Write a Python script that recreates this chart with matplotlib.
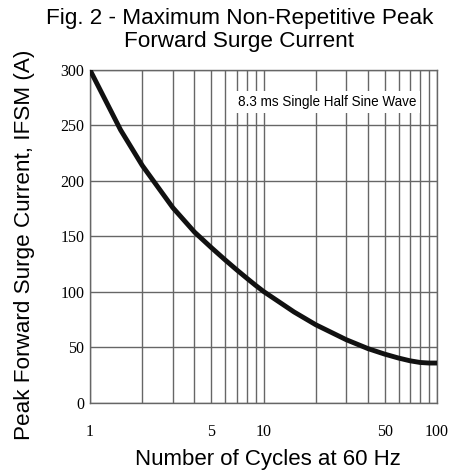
import matplotlib
matplotlib.use('Agg')
import matplotlib.pyplot as plt

# Surge current vs number of cycles
cycles = [1, 1.5, 2, 3, 4, 5, 6, 7, 8, 9, 10, 15, 20, 30, 40, 50, 60, 70, 80, 90, 100]
ifsm = [300, 246, 214, 176, 154, 140, 129, 120, 112.5, 106, 100.5, 82, 70.5, 57, 49,
        44, 40.5, 38, 36.5, 36, 36]

grid_x = [1, 2, 3, 4, 5, 6, 7, 8, 9, 10, 20, 30, 40, 50, 60, 70, 80, 90, 100]
x_labels = ['1', '', '', '', '5', '', '', '', '', '10', '', '', '', '50', '', '', '', '', '100']
y_ticks = [0, 50, 100, 150, 200, 250, 300]

title = 'Fig. 2 - Maximum Non-Repetitive Peak\nForward Surge Current'
xlab = 'Number of Cycles at 60 Hz'
ylab = 'Peak Forward Surge Current, IFSM (A)'
note = '8.3 ms Single Half Sine Wave'

sans = 'Liberation Sans'
serif = 'Liberation Serif'
grid_col = '#666666'

fig = plt.figure(figsize=(4.51, 4.72), dpi=100)
ax = fig.add_axes([0.1996, 0.1462, 0.7694, 0.7055])

ax.plot(cycles, ifsm, color='#111111', linewidth=3.5, solid_capstyle='butt', zorder=3)

ax.set_xscale('log')
ax.set_xlim(1, 100)
ax.set_ylim(0, 300)
ax.set_xticks(grid_x, x_labels)
ax.xaxis.set_minor_locator(matplotlib.ticker.NullLocator())
ax.set_yticks(y_ticks, [str(v) for v in y_ticks])
ax.grid(True, color=grid_col, linewidth=1.0)
ax.tick_params(length=0, labelsize=11.5)
ax.tick_params(axis='x', pad=15)
ax.tick_params(axis='y', pad=4)
for lab in ax.get_xticklabels() + ax.get_yticklabels():
    lab.set_fontfamily(serif)
for sp in ax.spines.values():
    sp.set_color(grid_col)
    sp.set_linewidth(1.0)

ax.text(0.683, 0.904, note, transform=ax.transAxes, ha='center', va='center',
        fontsize=9.75, family=sans, zorder=4,
        bbox=dict(facecolor='white', edgecolor='none', pad=3))

# labels placed in figure coords to follow the sheet layout
fig.text(0.595, 0.0148, xlab, ha='center', va='baseline', fontsize=16, family=sans)
fig.text(0.054, 0.481, ylab, ha='center', va='center', rotation=90,
         fontsize=16.2, family=sans)
fig.text(0.531, 0.984, title, ha='center', va='top', fontsize=16.2,
         family=sans, linespacing=1.15)

fig.savefig('out.png', dpi=100)
